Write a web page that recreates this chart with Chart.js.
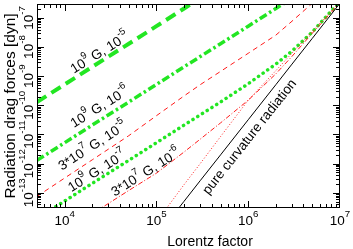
<!DOCTYPE html>
<html>
<head>
<meta charset="utf-8">
<script src="https://cdn.jsdelivr.net/npm/chart.js@4.4.1/dist/chart.umd.min.js"></script>
<style>
  html, body { margin: 0; padding: 0; background: #fff; }
</style>
</head>
<body>
<canvas id="chart" width="353" height="249"></canvas>
<script>
// Lorentz factor grid shared by all curves
const gammas = [5e3, 1e4, 2e4, 5e4, 1e5, 2e5, 3e5, 5e5, 1e6, 2e6, 3e6, 5e6, 1e7];

// radiation drag forces [dyn]
const b9e5  = [1.3e-10, 5.2e-10, 2.1e-9, 1.3e-8, 5.2e-8, 2.1e-7, 4.7e-7, 1.3e-6, 5.2e-6, 2.1e-5, 4.7e-5, 1.3e-4, 5.2e-4];
const b9e6  = [1.3e-12, 5.2e-12, 2.1e-11, 1.3e-10, 5.2e-10, 2.1e-9, 4.7e-9, 1.3e-8, 5.2e-8, 2.1e-7, 4.7e-7, 1.3e-6, 5.2e-6];
const b9e7  = [1.3e-14, 5.2e-14, 2.1e-13, 1.3e-12, 5.2e-12, 2.1e-11, 4.7e-11, 1.3e-10, 5.5e-10, 2.6e-9, 7.3e-9, 3.3e-8, 3.7e-7];
const b37e5 = [7.5e-14, 3.2e-13, 1.35e-12, 9.1e-12, 4.4e-11, 2.1e-10, 5.1e-10, 1.46e-9, 6.1e-9, 2.56e-8, 7.7e-8, 3.2e-7, 2e-6];
const b37e6 = [1.2e-15, 4.7e-15, 1.9e-14, 1.2e-13, 4.7e-13, 2.5e-12, 6.9e-12, 2.5e-11, 1.5e-10, 1.2e-9, 4.8e-9, 3e-8, 3.3e-7];
const b37e7 = [2.5e-20, 4e-19, 6.4e-18, 2.5e-16, 1e-14, 1.9e-13, 1e-12, 8.5e-12, 1.5e-10, 1.55e-9, 6.2e-9, 3.5e-8, 3.6e-7];
const curv  = [2e-20, 3.2e-19, 5.1e-18, 2e-16, 3.2e-15, 5.1e-14, 2.6e-13, 2e-12, 3.2e-11, 5.1e-10, 2.6e-9, 2e-8, 3.2e-7];

const xTicks = [1e4, 1e5, 1e6, 1e7];
const xTickExp = ['4', '5', '6', '7'];
const yTicks = [1e-13, 1e-12, 1e-11, 1e-10, 1e-9, 1e-8, 1e-7];
const yTickExp = ['-13', '-12', '-11', '-10', '-9', '-8', '-7'];

const FONT = '"Liberation Sans", Arial, sans-serif';
const GREEN = '#22e622';
const RED = '#ff1a1a';

// curve labels: text parts [text, superscript?], anchor [gamma, force], angle in degrees
const notes = [
  { parts: [['10', 0], ['9', 1], [' G, 10', 0], ['-5', 1]], at: [2.4e4, 6.6e-9], angle: -32 },
  { parts: [['10', 0], ['9', 1], [' G, 10', 0], ['-6', 1]], at: [2.4e4, 9.1e-11], angle: -32 },
  { parts: [['3*10', 0], ['7', 1], [' G, 10', 0], ['-5', 1]], at: [2.0e4, 4.2e-12], angle: -33 },
  { parts: [['10', 0], ['9', 1], [' G, 10', 0], ['-7', 1]], at: [2.25e4, 5.7e-13], angle: -32 },
  { parts: [['3*10', 0], ['7', 1], [' G, 10', 0], ['-6', 1]], at: [7.6e4, 5.2e-13], angle: -32 },
  { parts: [['pure curvature radiation', 0]], at: [1.02e6, 8.5e-12], angle: -51.6 }
];

function pts(vals) {
  return gammas.map((g, i) => ({ x: g, y: vals[i] }));
}

function drawSup(ctx, parts, x, y, angle, size) {
  const sup = size * 0.72;
  ctx.save();
  ctx.translate(x, y);
  ctx.rotate(angle);
  let w = 0;
  for (const [t, s] of parts) {
    ctx.font = (s ? sup : size) + 'px ' + FONT;
    w += ctx.measureText(t).width;
  }
  let cx = -w / 2;
  ctx.textAlign = 'left';
  ctx.textBaseline = 'alphabetic';
  for (const [t, s] of parts) {
    ctx.font = (s ? sup : size) + 'px ' + FONT;
    ctx.fillText(t, cx, s ? size * 0.35 - size * 0.55 : size * 0.35);
    cx += ctx.measureText(t).width;
  }
  ctx.restore();
}

const axesPlugin = {
  id: 'axesPlugin',
  afterDatasetsDraw(chart) {
    const { ctx, chartArea: a, scales: { x, y } } = chart;
    ctx.save();
    ctx.strokeStyle = '#000';
    ctx.fillStyle = '#000';
    ctx.lineWidth = 1;
    ctx.strokeRect(a.left + 0.5, a.top + 0.5, a.right - a.left - 1, a.bottom - a.top - 1);
    ctx.beginPath();
    for (let e = 3; e <= 7; e++) {
      for (let m = 1; m < 10; m++) {
        const v = m * Math.pow(10, e);
        if (v <= x.min || v >= x.max) continue;
        const p = Math.round(x.getPixelForValue(v)) + 0.5;
        const len = m === 1 ? 7 : 4;
        ctx.moveTo(p, a.bottom); ctx.lineTo(p, a.bottom - len);
        ctx.moveTo(p, a.top); ctx.lineTo(p, a.top + len);
      }
    }
    for (let e = -14; e <= -7; e++) {
      for (let m = 1; m < 10; m++) {
        const v = m * Math.pow(10, e);
        if (v <= y.min || v >= y.max) continue;
        const p = Math.round(y.getPixelForValue(v)) + 0.5;
        const len = m === 1 ? 7 : 4;
        ctx.moveTo(a.left, p); ctx.lineTo(a.left + len, p);
        ctx.moveTo(a.right, p); ctx.lineTo(a.right - len, p);
      }
    }
    ctx.stroke();

    xTicks.forEach((v, i) => {
      drawSup(ctx, [['10', 0], [xTickExp[i], 1]], x.getPixelForValue(v), a.bottom + 12, 0, 13.5);
    });
    yTicks.forEach((v, i) => {
      drawSup(ctx, [['10', 0], [yTickExp[i], 1]], a.left - 9, y.getPixelForValue(v), -Math.PI / 2, 13.5);
    });

    ctx.textAlign = 'center';
    ctx.textBaseline = 'alphabetic';
    ctx.font = '14px ' + FONT;
    ctx.fillText('Lorentz factor', 210, 246);
    ctx.save();
    ctx.translate(15, (a.top + a.bottom) / 2);
    ctx.rotate(-Math.PI / 2);
    ctx.font = '15.5px ' + FONT;
    ctx.fillText('Radiation drag forces [dyn]', 0, 0);
    ctx.restore();

    for (const n of notes) {
      drawSup(ctx, n.parts, x.getPixelForValue(n.at[0]), y.getPixelForValue(n.at[1]),
        n.angle * Math.PI / 180, 13.5);
    }
    ctx.restore();
  }
};

const line = (data, color, width, dash, cap) => ({
  data: pts(data),
  borderColor: color,
  borderWidth: width,
  borderDash: dash,
  borderCapStyle: cap || 'butt',
  pointRadius: 0,
  fill: false,
  tension: 0,
  clip: 0
});

new Chart(document.getElementById('chart'), {
  type: 'line',
  data: {
    datasets: [
      line(curv, '#000', 1, []),
      line(b37e7, RED, 1, [1, 2]),
      line(b37e6, RED, 1, [5, 2, 1, 2]),
      line(b37e5, RED, 1, [5, 4]),
      line(b9e7, GREEN, 3.5, [0.1, 5.5], 'round'),
      line(b9e6, GREEN, 3.5, [8, 3, 2.5, 3]),
      line(b9e5, GREEN, 4, [11, 6])
    ]
  },
  options: {
    responsive: false,
    animation: false,
    events: [],
    layout: { padding: { left: 37, right: 13, top: 4, bottom: 41 } },
    plugins: { legend: { display: false }, tooltip: { enabled: false } },
    scales: {
      x: { type: 'logarithmic', min: 5e3, max: 1e7, display: false },
      y: { type: 'logarithmic', min: 3e-14, max: 3e-7, display: false }
    }
  },
  plugins: [axesPlugin]
});
</script>
</body>
</html>
